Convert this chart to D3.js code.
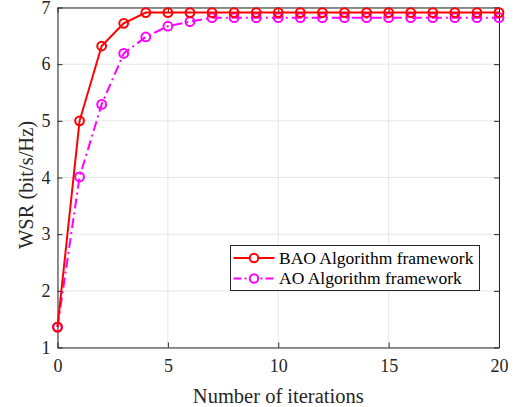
<!DOCTYPE html>
<html>
<head>
<meta charset="utf-8">
<script src="https://cdn.jsdelivr.net/npm/d3@7"></script>
<style>
  body { margin: 0; background: #fff; }
  svg { font-family: "Liberation Serif", "Times New Roman", serif; }
</style>
</head>
<body>
<svg id="chart" width="520" height="407"></svg>
<script>
var iterations = d3.range(0, 21);
var baoWsr = [1.36, 5.00, 6.32, 6.72, 6.91, 6.91, 6.91, 6.91, 6.91, 6.91, 6.91,
  6.91, 6.91, 6.91, 6.91, 6.91, 6.91, 6.91, 6.91, 6.91, 6.91];
var aoWsr = [1.36, 4.01, 5.29, 6.19, 6.48, 6.67, 6.75, 6.82, 6.82, 6.82, 6.82,
  6.82, 6.82, 6.82, 6.82, 6.82, 6.82, 6.82, 6.82, 6.82, 6.82];
var xTicks = [0, 5, 10, 15, 20];
var yTicks = [1, 2, 3, 4, 5, 6, 7];
var seriesNames = ['BAO Algorithm framework', 'AO Algorithm framework'];

var svg = d3.select('#chart');
var plotL = 57.5, plotR = 499, plotT = 7.5, plotB = 347.5;
var dashDot = '10,4,2,4';

var x = d3.scaleLinear().domain([0, 20]).range([plotL, plotR]);
var y = d3.scaleLinear().domain([1, 7]).range([plotB, plotT]);

// grid
svg.append('g')
  .selectAll('line')
  .data(xTicks)
  .enter()
  .append('line')
  .attr('x1', d => x(d)).attr('x2', d => x(d))
  .attr('y1', plotT).attr('y2', plotB)
  .attr('stroke', '#e6e6e6').attr('stroke-width', 1);
svg.append('g')
  .selectAll('line')
  .data(yTicks)
  .enter()
  .append('line')
  .attr('x1', plotL).attr('x2', plotR)
  .attr('y1', d => y(d)).attr('y2', d => y(d))
  .attr('stroke', '#e6e6e6').attr('stroke-width', 1);

// axes, ticks point inward
function styleAxis(g) {
  g.select('.domain').attr('stroke', '#262626').attr('stroke-width', 1);
  g.selectAll('.tick line').attr('stroke', '#262626');
  g.selectAll('.tick text')
    .attr('fill', '#262626')
    .style('font-size', '18px')
    .style('font-family', '"Liberation Serif", serif');
}

svg.append('g')
  .attr('transform', `translate(0, ${plotB})`)
  .call(d3.axisBottom(x).tickValues(xTicks).tickFormat(d3.format('d'))
    .tickSizeInner(-5).tickSizeOuter(0).tickPadding(12))
  .call(styleAxis);
svg.append('g')
  .attr('transform', `translate(0, ${plotT})`)
  .call(d3.axisTop(x).tickValues(xTicks).tickSizeInner(-5).tickSizeOuter(0).tickFormat(''))
  .call(styleAxis);
svg.append('g')
  .attr('transform', `translate(${plotL}, 0)`)
  .call(d3.axisLeft(y).tickValues(yTicks).tickFormat(d3.format('d'))
    .tickSizeInner(-5).tickSizeOuter(0).tickPadding(7))
  .call(styleAxis);
svg.append('g')
  .attr('transform', `translate(${plotR}, 0)`)
  .call(d3.axisRight(y).tickValues(yTicks).tickSizeInner(-5).tickSizeOuter(0).tickFormat(''))
  .call(styleAxis);

// series
var series = [
  { name: seriesNames[0], values: baoWsr, color: '#ff0000', dash: null },
  { name: seriesNames[1], values: aoWsr, color: '#ff00ff', dash: dashDot }
];

var line = d3.line()
  .x((d, i) => x(iterations[i]))
  .y(d => y(d));

series.slice().reverse().forEach(function (s) {
  svg.append('path')
    .datum(s.values)
    .attr('d', line)
    .attr('fill', 'none')
    .attr('stroke', s.color)
    .attr('stroke-width', 2)
    .attr('stroke-dasharray', s.dash);
  svg.append('g')
    .selectAll('circle')
    .data(s.values)
    .enter()
    .append('circle')
    .attr('cx', (d, i) => x(iterations[i]))
    .attr('cy', d => y(d))
    .attr('r', 4.4)
    .attr('fill', 'none')
    .attr('stroke', s.color)
    .attr('stroke-width', 2);
});

// legend
var legend = svg.append('g').attr('transform', 'translate(230.5, 245.5)');
legend.append('rect')
  .attr('width', 249).attr('height', 45)
  .attr('fill', '#fff').attr('stroke', '#262626').attr('stroke-width', 1);
series.forEach(function (s, i) {
  var ly = 12.5 + i * 20.5;
  legend.append('line')
    .attr('x1', 3).attr('x2', 44).attr('y1', ly).attr('y2', ly)
    .attr('stroke', s.color).attr('stroke-width', 2)
    .attr('stroke-dasharray', s.dash ? '8,3,2,3' : null);
  legend.append('circle')
    .attr('cx', 23.5).attr('cy', ly).attr('r', 4.2)
    .attr('fill', '#fff').attr('stroke', s.color).attr('stroke-width', 2);
  legend.append('text')
    .attr('x', 48.5).attr('y', ly + 5.5)
    .attr('fill', '#000')
    .style('font-size', '17.5px')
    .text(s.name);
});

// axis labels
svg.append('text')
  .attr('x', (plotL + plotR) / 2).attr('y', 403)
  .attr('text-anchor', 'middle')
  .attr('fill', '#262626')
  .style('font-size', '20.5px')
  .text('Number of iterations');
svg.append('text')
  .attr('transform', 'translate(33, 185) rotate(-90)')
  .attr('text-anchor', 'middle')
  .attr('fill', '#262626')
  .style('font-size', '20.5px')
  .text('WSR (bit/s/Hz)');
</script>
</body>
</html>
